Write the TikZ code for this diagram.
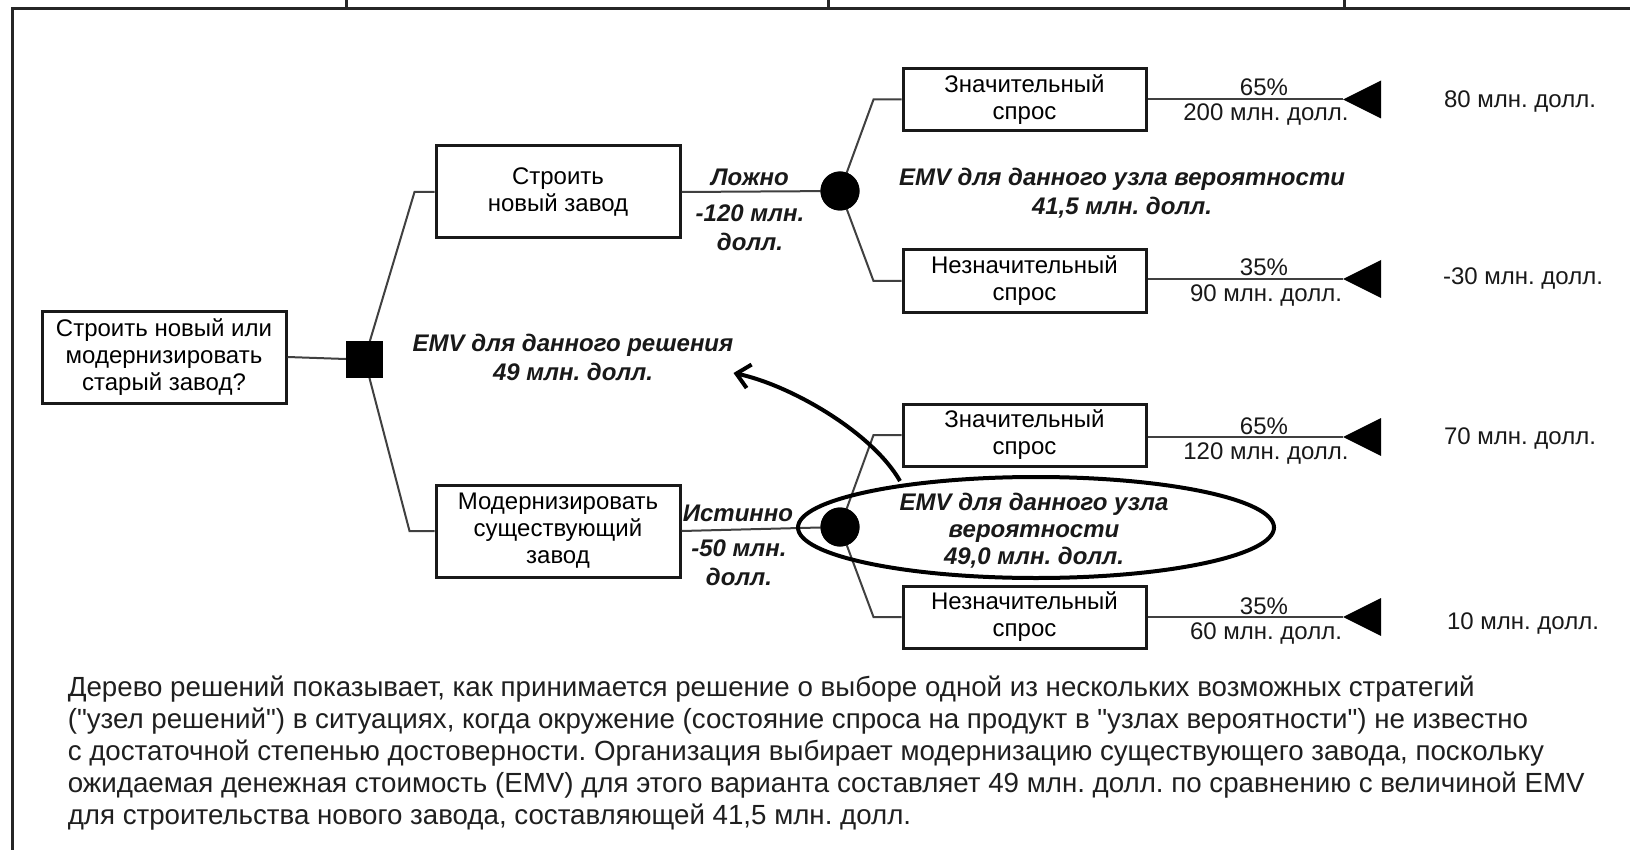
\documentclass[tikz,border=0pt]{standalone}
\usepackage{fontspec}
\setmainfont{Liberation Sans}
\newfontfamily\plainqfont{Liberation Sans}
\usetikzlibrary{arrows.meta,shapes.geometric}
\newcommand{\qmark}{{\plainqfont"}}
\frenchspacing
\begin{document}
\begin{tikzpicture}[x=1pt,y=-1pt,
  frame/.style={line width=3pt,draw=black!85},
  bigbox/.style={draw=black!90,line width=3pt,minimum width=244pt,minimum height=92pt,inner sep=0pt,align=center,font=\fontsize{24}{27}\selectfont},
  smallbox/.style={draw=black!90,line width=3pt,minimum width=243pt,minimum height=62pt,inner sep=0pt,align=center,font=\fontsize{24}{27}\selectfont},
  conn/.style={line width=2pt,draw=black!75},
  lbl/.style={font=\fontsize{24}{28}\selectfont,inner sep=0pt,align=center,text=black!90},
  bilbl/.style={font=\bfseries\itshape\fontsize{24}{29}\selectfont,inner sep=0pt,align=center,text=black!90},
  chance/.style={circle,fill=black,minimum size=39pt,inner sep=0pt},
  decision/.style={fill=black,minimum size=37pt,inner sep=0pt},
  termtri/.style={fill=black}
]
\fill[white] (0,0) rectangle (1630,850);
\useasboundingbox (0,0) rectangle (1630,850);

% frame
\draw[frame] (12,850) -- (12,8.5) -- (1630,8.5);
\draw[frame] (346,0) -- (346,8.5);
\draw[frame] (828,0) -- (828,8.5);
\draw[frame] (1344,0) -- (1344,8.5);

% nodes
\node[bigbox] (root) at (164,357) {Строить новый или\\модернизировать\\старый завод?};
\node[decision] (sq) at (364.5,359) {};
\node[bigbox] (bA) at (558,192) {Строить\\новый завод};
\node[bigbox] (bB) at (558,531) {Модернизировать\\существующий\\завод};

\node[chance] (ch1) at (840,191) {};
\node[chance] (ch2) at (840,527) {};

\node[smallbox] (c1) at (1024.5,99.5) {Значительный\\спрос};
\node[smallbox] (d1) at (1024.5,281) {Незначительный\\спрос};
\node[smallbox] (c2) at (1024.5,435) {Значительный\\спрос};
\node[smallbox] (d2) at (1024.5,617) {Незначительный\\спрос};

\coordinate (t1) at (1343,99.5);
\coordinate (t2) at (1343,279);
\coordinate (t3) at (1343,437);
\coordinate (t4) at (1343,617);

% connectors
\draw[conn] (root.east) -- (sq.west);
\draw[conn] (sq.center) -- ([xshift=-20pt]bA.west) -- (bA.west);
\draw[conn] (sq.center) -- ([xshift=-25pt]bB.west) -- (bB.west);
\draw[conn] (bA.east) -- (ch1.center);
\draw[conn] (bB.east) -- (ch2.center);
\draw[conn] (ch1.center) -- ([xshift=-28pt]c1.west) -- (c1.west);
\draw[conn] (ch1.center) -- ([xshift=-28pt]d1.west) -- (d1.west);
\draw[conn] (ch2.center) -- ([xshift=-28pt]c2.west) -- (c2.west);
\draw[conn] (ch2.center) -- ([xshift=-28pt]d2.west) -- (d2.west);
\draw[conn] (c1.east) -- (t1);
\draw[conn] (d1.east |- t2) -- (t2);
\draw[conn] (c2.east |- t3) -- (t3);
\draw[conn] (d2.east) -- (t4);

% redraw nodes on top
\node[decision] at (sq) {};
\node[chance] at (ch1) {};
\node[chance] at (ch2) {};

% terminal triangles
\foreach \t in {t1,t2,t3,t4}{
  \fill[termtri] (\t) -- ++(38,-19) -- ++(0,38) -- cycle;
}

% branch labels
\node[bilbl] (lz) at (750,177) {Ложно};
\node[bilbl] (lzv) at (750,227.5) {-120 млн.\\долл.};
\node[bilbl] (is) at (738,513.5) {Истинно};
\node[bilbl] (isv) at (739,562.5) {-50 млн.\\долл.};

% probabilities and values
\node[lbl] (p1) at (1264,87) {65\%};
\node[lbl] (v1) at (1266,115) {200 млн. долл.};
\node[lbl] (p2) at (1264,267) {35\%};
\node[lbl] (v2) at (1266,296) {90 млн. долл.};
\node[lbl] (p3) at (1264,426) {65\%};
\node[lbl] (v3) at (1266,454) {120 млн. долл.};
\node[lbl] (p4) at (1264,606) {35\%};
\node[lbl] (v4) at (1266,634) {60 млн. долл.};

% payoffs
\node[lbl] (r1) at (1520,102) {80 млн. долл.};
\node[lbl] (r2) at (1523,279) {-30 млн. долл.};
\node[lbl] (r3) at (1520,439) {70 млн. долл.};
\node[lbl] (r4) at (1523,624) {10 млн. долл.};

% EMV labels
\node[bilbl] (emv1) at (1122,193.5) {EMV для данного узла вероятности\\41,5 млн. долл.};
\node[bilbl] (emvd) at (573,357) {EMV для данного решения\\49 млн. долл.};
\node[bilbl,font=\bfseries\itshape\fontsize{24}{27}\selectfont] (emv2) at (1034,531) {EMV для данного узла\\вероятности\\49,0 млн. долл.};
\draw[line width=4pt,black] (1036,527.5) ellipse [x radius=238, y radius=50.5];
\coordinate (arrS) at (900,481);
\draw[line width=4pt,black,-{Straight Barb[length=13pt,width=24pt]}] (arrS) .. controls (872,432) and (790,385) .. (emvd.east |- 0,373) ;

% paragraph
\node[anchor=west,align=left,inner sep=0pt,font=\fontsize{27.7}{32.2}\selectfont,text=black!88] (para) at (67.6,753)
{Дерево решений показывает, как принимается решение о выборе одной из нескольких возможных стратегий\\
(\qmark узел решений\qmark) в ситуациях, когда окружение (состояние спроса на продукт в \qmark узлах вероятности\qmark) не известно\\
с достаточной степенью достоверности. Организация выбирает модернизацию существующего завода, поскольку\\
ожидаемая денежная стоимость (EMV) для этого варианта составляет 49 млн. долл. по сравнению с величиной EMV\\
для строительства нового завода, составляющей 41,5 млн. долл.};
\end{tikzpicture}
\end{document}
